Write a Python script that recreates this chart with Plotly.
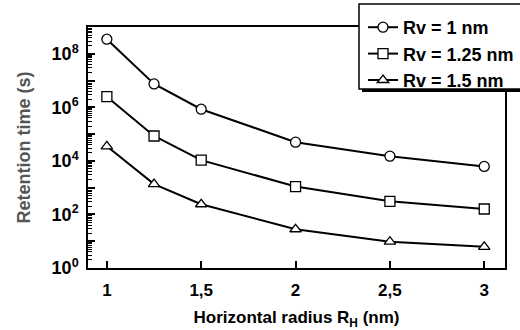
import plotly.graph_objects as go

# Data
radius_h = [1, 1.25, 1.5, 2, 2.5, 3]
rv_1 = [3.5e8, 7.5e6, 8.5e5, 5.0e4, 1.5e4, 6.2e3]
rv_125 = [2.5e6, 8.5e4, 1.07e4, 1.1e3, 3.1e2, 1.6e2]
rv_15 = [3.5e4, 1.36e3, 2.4e2, 28, 9.6, 6.2]
series_names = ["Rv = 1 nm", "Rv = 1.25 nm", "Rv = 1.5 nm"]
symbols = ["circle", "square", "triangle-up"]
x_tickvals = [1, 1.5, 2, 2.5, 3]
x_ticktext = ["1", "1,5", "2", "2,5", "3"]
y_exponents = list(range(0, 10))

FONT = "Liberation Sans, Arial, sans-serif"

fig = go.Figure()
for name, ys, sym in zip(series_names, [rv_1, rv_125, rv_15], symbols):
    fig.add_trace(go.Scatter(
        x=radius_h, y=ys, mode="lines+markers", name=name,
        line=dict(color="black", width=2),
        marker=dict(symbol=sym, size=10, color="white",
                    line=dict(color="black", width=1.3)),
    ))

W, H = 520, 330
L, R, T, B = 88, 15, 27, 62
pw, ph = W - L - R, H - T - B

def px2paper(px, py):
    return (px - L) / pw, (H - B - py) / ph

# legend box (shadow + box) as shapes
sx0, sy0 = px2paper(362, 7)
sx1, sy1 = px2paper(530, 92)
bx0, by0 = px2paper(359, 4)
bx1, by1 = px2paper(527, 89)
fig.add_shape(type="rect", xref="paper", yref="paper", x0=sx0, x1=sx1, y0=sy0, y1=sy1,
              fillcolor="black", line=dict(width=0), layer="above")
fig.add_shape(type="rect", xref="paper", yref="paper", x0=bx0, x1=bx1, y0=by0, y1=by1,
              fillcolor="white", line=dict(color="black", width=1.5), layer="above")

fig.update_layout(
    width=W, height=H,
    margin=dict(l=L, r=R, t=T, b=B, autoexpand=False),
    paper_bgcolor="white", plot_bgcolor="white",
    font=dict(family=FONT, size=16, color="black", weight="bold"),
    showlegend=True,
    legend=dict(
        xref="container", yref="container",
        x=363 / W, y=1 - 9 / H, xanchor="left", yanchor="top",
        bgcolor="rgba(0,0,0,0)", borderwidth=0,
        font=dict(family=FONT, size=18, color="black", weight="bold"),
        traceorder="normal",
    ),
    xaxis=dict(
        range=[0.9, 3.11], tickmode="array", tickvals=x_tickvals, ticktext=x_ticktext,
        ticks="inside", ticklen=7, tickwidth=1.5, tickcolor="black",
        showline=True, linecolor="black", linewidth=1.5, mirror=True,
        showgrid=False, zeroline=False, automargin=False,
        ticklabelstandoff=6,
        tickfont=dict(family=FONT, size=17, color="black", weight="bold"),
        title=dict(text="Horizontal radius R<sub>H</sub> (nm)", standoff=14,
                   font=dict(family=FONT, size=17, color="black", weight="bold")),
    ),
    yaxis=dict(
        type="log", range=[0, 9],
        tickmode="array", tickvals=[10 ** e for e in y_exponents],
        ticktext=[f"10<sup>{e}</sup>" if e % 2 == 0 else "" for e in y_exponents],
        ticks="inside", ticklen=7, tickwidth=1.5, tickcolor="black",
        minor=dict(ticks="inside", ticklen=4, tickwidth=1, tickcolor="black", dtick="D1"),
        showline=True, linecolor="black", linewidth=1.5, mirror=True,
        showgrid=False, zeroline=False, automargin=False,
        ticklabelstandoff=4,
        tickfont=dict(family=FONT, size=18, color="black", weight="bold"),
        title=dict(text="Retention time (s)", standoff=16,
                   font=dict(family=FONT, size=18, color="#555", weight="bold")),
    ),
)

fig.write_html("out.html")
